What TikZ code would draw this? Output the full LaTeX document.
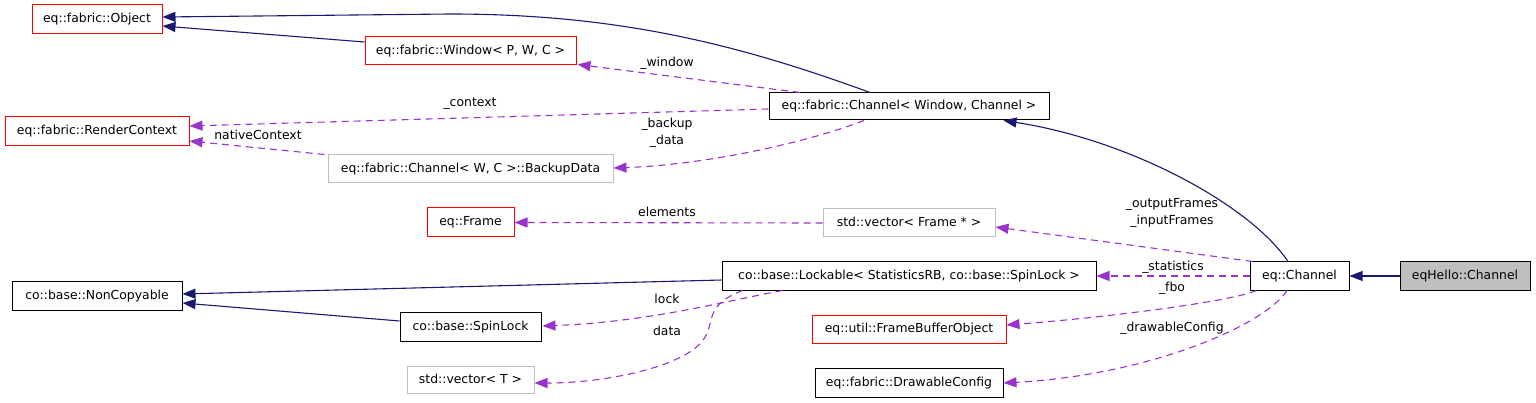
\documentclass[tikz,border=0pt]{standalone}
\usepackage{fontspec}
\setmainfont{DejaVu Sans}
\usetikzlibrary{arrows.meta,calc}
\definecolor{navy}{HTML}{191970}
\definecolor{orchid}{HTML}{9A32CD}
\definecolor{boxred}{HTML}{FF0000}
\definecolor{boxgray}{HTML}{BFBFBF}
\tikzset{
  cls/.style={draw, line width=1pt, inner sep=0pt, minimum height=28pt,
    font=\fontsize{12.4}{14}\selectfont, text height=9.5pt, text depth=2.5pt},
  redcls/.style={cls, draw=boxred},
  graycls/.style={cls, draw=boxgray},
  blackcls/.style={cls, draw=black},
  hlcls/.style={cls, draw=black, fill=boxgray},
  inh/.style={draw=navy, line width=1.1pt, -{Triangle[length=13pt,width=10pt,fill=navy]}},
  usage/.style={draw=orchid, line width=1.1pt, dash pattern=on 7pt off 5pt,
    -{Triangle[length=13pt,width=10pt,fill=orchid]}},
  lbl/.style={inner sep=0pt, font=\fontsize{12.4}{17}\selectfont, align=center,
    text height=9.5pt, text depth=2.5pt}
}
\begin{document}
\begin{tikzpicture}[x=1pt,y=-1pt]
\useasboundingbox (0,0) rectangle (1536,403);
% nodes
\node[redcls, minimum width=130pt, minimum height=29pt] (obj) at (97,19.5) {eq::fabric::Object};
\node[redcls, minimum width=211pt] (win) at (470.5,51) {eq::fabric::Window< P, W, C >};
\node[redcls, minimum width=184pt, minimum height=29pt] (rc) at (97,131.5) {eq::fabric::RenderContext};
\node[blackcls, minimum width=280pt, minimum height=27pt] (fch) at (909,106.5) {eq::fabric::Channel< Window, Channel >};
\node[graycls, minimum width=285pt] (bd) at (470.5,169) {eq::fabric::Channel< W, C >::BackupData};
\node[redcls, minimum width=87pt, minimum height=29pt] (frame) at (470.5,222.5) {eq::Frame};
\node[graycls, minimum width=172pt] (vf) at (909,223) {std::vector< Frame * >};
\node[blackcls, minimum width=170pt] (nc) at (97,296) {co::base::NonCopyable};
\node[blackcls, minimum width=374pt] (lock) at (909,276) {co::base::Lockable< StatisticsRB, co::base::SpinLock >};
\node[blackcls, minimum width=141pt, minimum height=29pt] (spin) at (470.5,326.5) {co::base::SpinLock};
\node[graycls, minimum width=127pt, minimum height=27pt] (vt) at (470.5,379.5) {std::vector< T >};
\node[redcls, minimum width=194pt] (fbo) at (909,329) {eq::util::FrameBufferObject};
\node[blackcls, minimum width=188pt, minimum height=29pt] (dc) at (909,382.5) {eq::fabric::DrawableConfig};
\node[blackcls, minimum width=99pt] (ch) at (1299.5,276) {eq::Channel};
\node[hlcls, minimum width=130pt] (hello) at (1465,276) {eqHello::Channel};
% inheritance edges
\draw[inh] (hello.west) -- (ch.east);
\draw[inh] ($(ch.north)+(-11.5,0)$) .. controls (1250,205) and (1130,140) .. ($(fch.south east)+(-46,0)$);
\draw[inh] ($(fch.north)+(-39,0)$) .. controls (740,45) and (620,14) .. (450,14) -- ($(obj.east)+(0,-2.5)$);
\draw[inh] ($(win.west)+(0,-9)$) -- ($(obj.east)+(0,6.5)$);
\draw[inh] ($(lock.west)+(0,4)$) -- ($(nc.east)+(0,-2)$);
\draw[inh] ($(spin.west)+(0,-5.5)$) -- ($(nc.east)+(0,7)$);
% usage edges
\draw[usage] ($(fch.north)+(-109,0)$) -- ($(win.south east)+(1,-1)$);
\draw[usage] ($(fch.west)+(0,2.5)$) -- ($(rc.east)+(0,-5.5)$);
\draw[usage] ($(bd.north west)+(-3,0)$) -- ($(rc.east)+(0,9.5)$);
\draw[usage] ($(fch.south)+(-45,0)$) .. controls (800,145) and (700,165) .. ($(bd.east)+(0,-1)$);
\draw[usage] (vf.west) -- (frame.east);
\draw[usage] ($(ch.north west)+(3,0)$) -- ($(vf.east)+(0,4)$);
\draw[usage] (ch.west) -- (lock.east);
\draw[usage] ($(ch.south west)+(7,0)$) .. controls (1230,302) and (1100,318) .. ($(fbo.east)+(0,-4)$);
\draw[usage] ($(ch.south)+(-12.5,0)$) .. controls (1265,325) and (1150,375) .. ($(dc.east)+(0,0.5)$);
\draw[usage] ($(lock.south west)+(61,0)$) .. controls (730,300) and (650,322) .. ($(spin.east)+(1,-0.5)$);
\draw[usage] ($(lock.south west)+(21,0)$) .. controls (705,305) and (715,320) .. (705,337) .. controls (690,365) and (610,383) .. ($(vt.east)+(0,3.5)$);
% labels
\node[lbl] (lwin) at (667,63) {\_window};
\node[lbl] (lctx) at (470,103) {\_context};
\node[lbl] (lnat) at (258,136) {nativeContext};
\node[lbl] (lbak) at (667,141.5) {\_backup\\\_data};
\node[lbl] (lel) at (667,213) {elements};
\node[lbl] (lfr) at (1172,221.5) {\_outputFrames\\\_inputFrames};
\node[lbl] (lst) at (1173,267) {\_statistics};
\node[lbl] (lfbo) at (1172,288) {\_fbo};
\node[lbl] (ldc) at (1172,328) {\_drawableConfig};
\node[lbl] (llock) at (667,300) {lock};
\node[lbl] (ldata) at (667,332) {data};
\end{tikzpicture}
\end{document}
